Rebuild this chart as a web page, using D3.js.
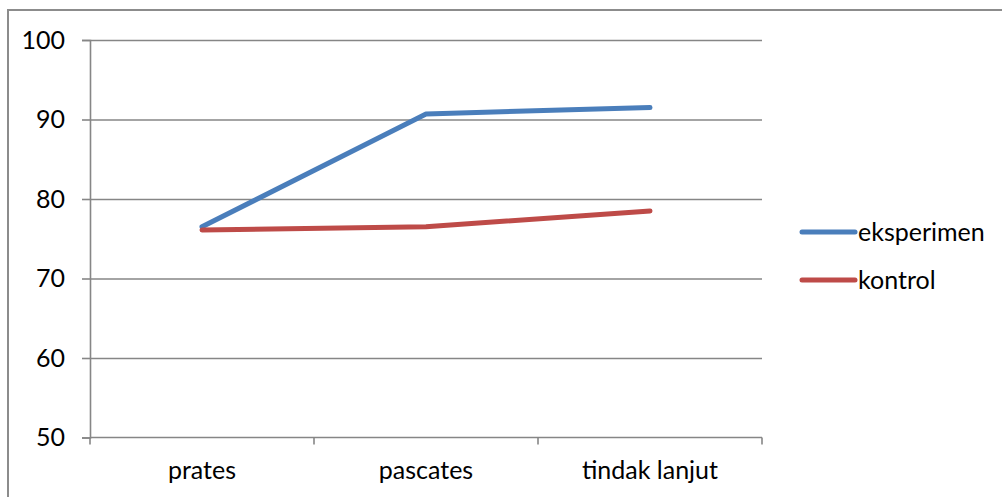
<!DOCTYPE html>
<html>
<head>
<meta charset="utf-8">
<script src="https://cdn.jsdelivr.net/npm/d3@7"></script>
<style>
  html, body { margin: 0; padding: 0; background: #fff; }
  svg { display: block; }
</style>
</head>
<body>
<svg id="chart" width="1002" height="497"></svg>
<script>
// data
const categories = ["prates", "pascates", "tindak lanjut"];
const seriesNames = ["eksperimen", "kontrol"];
const eksperimen = [76.5, 90.7, 91.5];
const kontrol = [76.1, 76.5, 78.5];
const yTicks = [50, 60, 70, 80, 90, 100];

const W = 1002, H = 497;
const m = { top: 40, right: 240, bottom: 59.5, left: 90 };
const w = W - m.left - m.right;
const h = H - m.top - m.bottom;

const FONT = "Lato, 'Noto Sans', sans-serif";
const FS = 25;
const GRID = "#868686";
const COLORS = ["#4a7ebb", "#be4b48"];

const svg = d3.select("#chart");

// outer chart border (runs off the right and bottom)
svg.append("rect")
    .attr("x", 8).attr("y", 10).attr("width", 1100).attr("height", 600)
    .attr("fill", "none").attr("stroke", "#8c8c8c").attr("stroke-width", 2);

const g = svg.append("g").attr("transform", `translate(${m.left},${m.top})`);

const x = d3.scaleBand().domain(categories).range([0, w]);
const y = d3.scaleLinear().domain([50, 100]).range([h, 0]);

// grid + y axis
g.append("g")
    .call(d3.axisLeft(y).tickValues(yTicks).tickSize(8).tickPadding(17).tickFormat(d3.format("d")))
    .call(g => g.select(".domain").attr("stroke", GRID).attr("stroke-width", 1.6))
    .call(g => g.selectAll("line").attr("stroke", GRID).attr("stroke-width", 1.6))
    .call(g => g.selectAll("text").attr("fill", "#000").attr("font-size", FS).attr("font-family", FONT));
g.append("g")
    .call(d3.axisLeft(y).tickValues(yTicks.filter(d => d > 50)).tickSize(-w).tickFormat(""))
    .call(g => g.select(".domain").remove())
    .call(g => g.selectAll("line").attr("stroke", GRID).attr("stroke-width", 1.6));

// x axis with ticks between categories
const xAxis = g.append("g").attr("transform", `translate(0,${h})`);
xAxis.append("line").attr("x1", 0).attr("x2", w)
    .attr("stroke", GRID).attr("stroke-width", 1.6);
const bounds = categories.map(c => x(c)).concat([w]);
xAxis.selectAll(".xt").data(bounds).enter().append("line")
    .attr("x1", d => d).attr("x2", d => d).attr("y1", 0).attr("y2", 7)
    .attr("stroke", GRID).attr("stroke-width", 1.6);
xAxis.selectAll(".xl").data(categories).enter().append("text")
    .attr("x", d => x(d) + x.bandwidth() / 2).attr("y", 41)
    .attr("text-anchor", "middle").attr("font-size", FS).attr("font-family", FONT)
    .attr("fill", "#000").text(d => d);

// lines
const line = d3.line()
    .x((d, i) => x(categories[i]) + x.bandwidth() / 2)
    .y(d => y(d));
[eksperimen, kontrol].forEach((vals, i) => {
    g.append("path").datum(vals)
        .attr("d", line)
        .attr("fill", "none").attr("stroke", COLORS[i]).attr("stroke-width", 5)
        .attr("stroke-linecap", "round").attr("stroke-linejoin", "round");
});

// legend
const legend = svg.append("g").attr("transform", "translate(800,232)");
seriesNames.forEach((s, i) => {
    const ly = i * 48;
    legend.append("line")
        .attr("x1", 2).attr("x2", 55).attr("y1", ly).attr("y2", ly)
        .attr("stroke", COLORS[i]).attr("stroke-width", 5).attr("stroke-linecap", "round");
    legend.append("text")
        .attr("x", 58).attr("y", ly).attr("dy", "0.35em")
        .attr("font-size", FS).attr("font-family", FONT).attr("fill", "#000").text(s);
});
</script>
</body>
</html>
